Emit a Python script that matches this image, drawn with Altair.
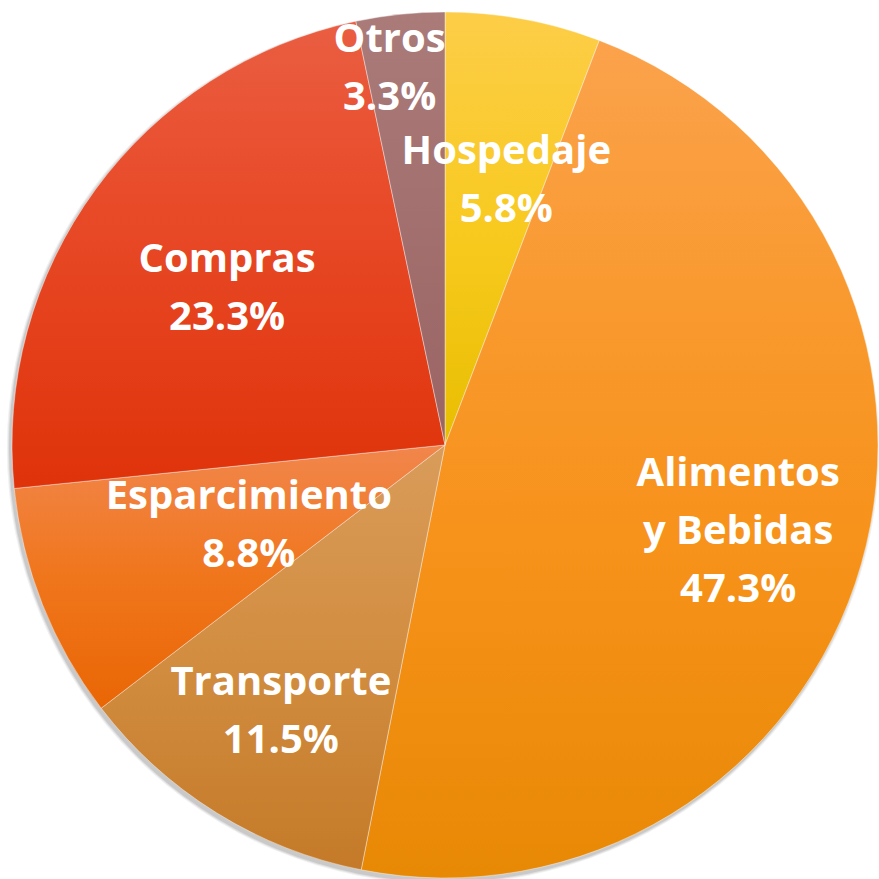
import altair as alt
import pandas as pd

# ---- data (clockwise from 12 o'clock) ----
categories = ["Hospedaje", "Alimentos y Bebidas", "Transporte", "Esparcimiento", "Compras", "Otros"]
values = [5.8, 47.3, 11.5, 8.8, 23.3, 3.3]
label_lines = [
    ["Hospedaje", "5.8%"],
    ["Alimentos", "y Bebidas", "47.3%"],
    ["Transporte", "11.5%"],
    ["Esparcimiento", "8.8%"],
    ["Compras", "23.3%"],
    ["Otros", "3.3%"],
]

# ---- styles ----
gradient_stops = [
    [(0, "#FDCD48"), (0.5, "#F8CA20"), (1, "#E8BE00")],
    [(0, "#FBA24C"), (0.3, "#F99A30"), (0.6, "#F7921A"), (1, "#E88905")],
    [(0, "#D99C5A"), (0.5, "#D28D40"), (1, "#C47A28")],
    [(0, "#F1864C"), (0.5, "#F0761C"), (1, "#E96604")],
    [(0, "#EA5E42"), (0.4, "#E84A28"), (1, "#DF330A")],
    [(0, "#AA7B79"), (1, "#9A6463")],
]
label_radius = [272, 305, 311, 211, 270, 381]
label_dx = [12, 0, 0, 0, 0, -16]
LINE_H = 58

R = 433
FONT = "Open Sans"

df = pd.DataFrame({"category": categories, "value": values, "order": list(range(len(values)))})
df["label"] = ["\n".join(l) for l in label_lines]

base = alt.Chart(df).transform_window(
    end="sum(value)", sort=[alt.SortField("order")], frame=[None, 0]
).transform_calculate(
    start="datum.end - datum.value", mid="datum.end - datum.value/2"
)

theta_scale = alt.Scale(domain=[0, 100], range=[0, 6.283185307179586])

layers = []

# soft shadow
for dr, op in [(3, 0.10), (2, 0.15), (1, 0.22)]:
    layers.append(
        alt.Chart(df).mark_arc(fill="#7a7a7a", opacity=op, outerRadius=R + dr).encode(
            theta=alt.Theta("sum(value):Q"),
            x=alt.value(434 - 2),
            y=alt.value(434 + 3),
        )
    )

for i, cat in enumerate(categories):
    grad = {
        "gradient": "linear",
        "x1": 0, "y1": 0, "x2": 0, "y2": 1,
        "stops": [{"offset": o, "color": c} for o, c in gradient_stops[i]],
    }
    layers.append(
        base.transform_filter(alt.datum.category == cat).mark_arc(
            fill=grad, outerRadius=R, stroke="#ffffff", strokeWidth=0.8, strokeOpacity=0.5
        ).encode(
            theta=alt.Theta("start:Q", scale=theta_scale),
            theta2=alt.Theta2("end:Q"),
        )
    )

for i, cat in enumerate(categories):
    n = len(label_lines[i])
    layers.append(
        base.transform_filter(alt.datum.category == cat).mark_text(
            font=FONT, fontSize=40, fontWeight="bold", color="white",
            lineBreak="\n", lineHeight=LINE_H, align="center", baseline="middle",
            radius=label_radius[i], dx=label_dx[i], dy=-(n - 1) * LINE_H / 2 + 3,
        ).encode(
            theta=alt.Theta("mid:Q", scale=theta_scale),
            text="label:N",
        )
    )

chart = alt.layer(*layers).properties(
    width=868, height=868,
    autosize="none",
    padding={"left": 11, "top": 11, "right": 0, "bottom": 0},
).configure_view(stroke=None)

chart.save("out.html", embed_options={"renderer": "svg", "actions": False})
